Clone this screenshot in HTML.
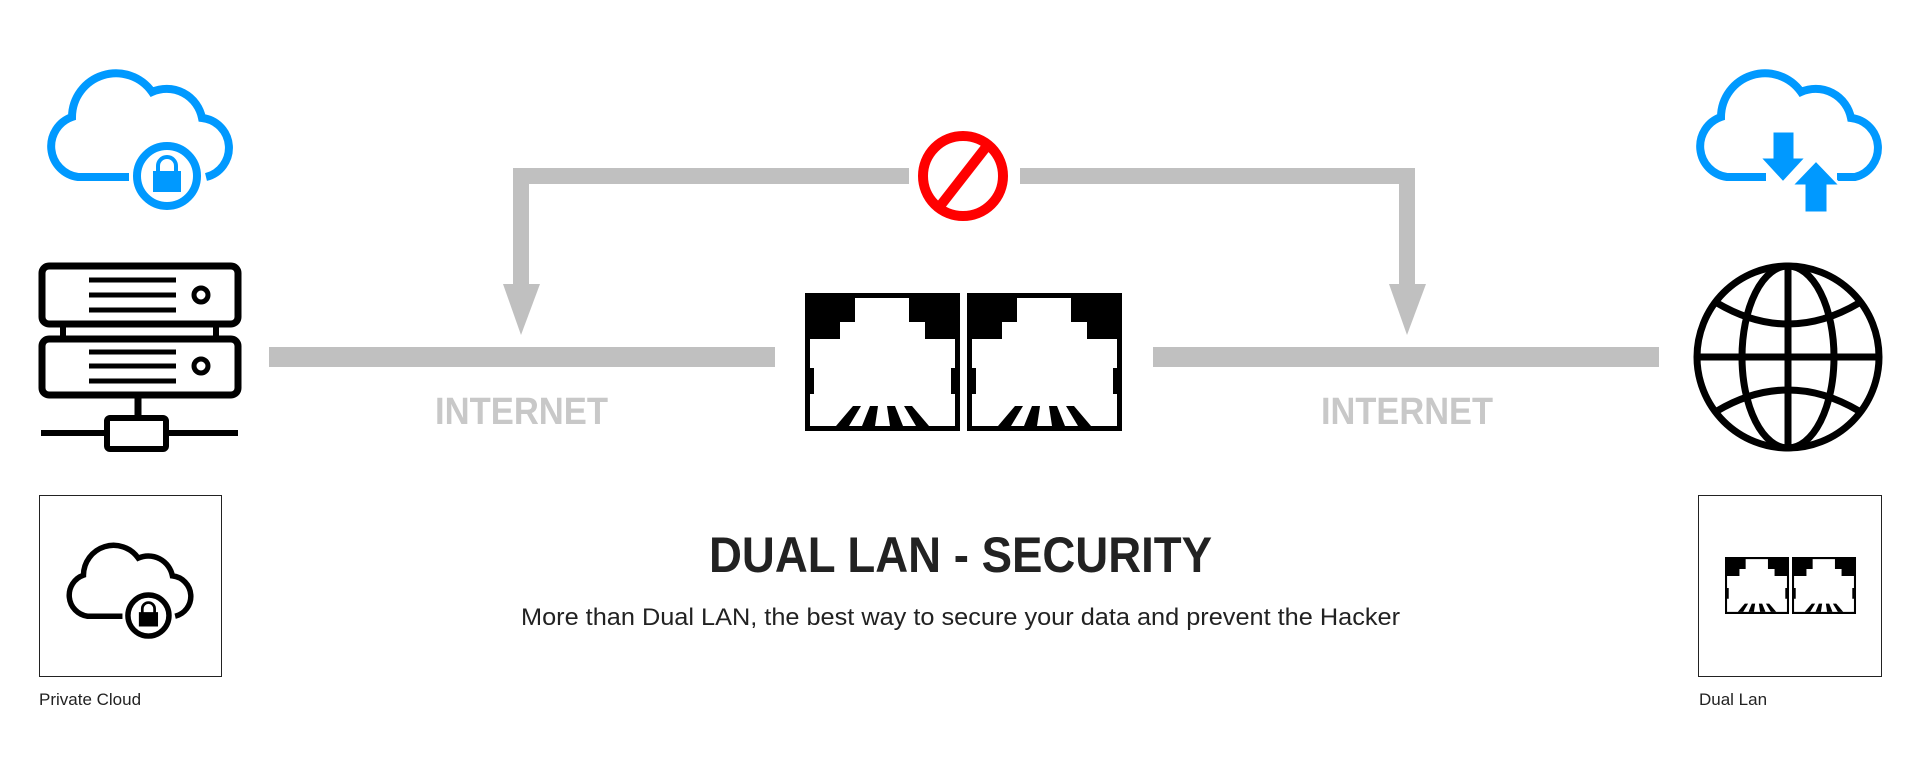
<!DOCTYPE html>
<html><head><meta charset="utf-8"><style>html,body{margin:0;padding:0;background:#fff}svg{display:block}</style></head>
<body>
<svg width="1920" height="778" viewBox="0 0 1920 778" xmlns="http://www.w3.org/2000/svg">
<defs>
<g id="port">
<rect x="0" y="0" width="155" height="138" fill="#000"/>
<polygon fill="#fff" points="50,5 104,5 104,29 120,29 120,46 150,46 150,75 146,75 146,101 150,101 150,133 5,133 5,101 9,101 9,75 5,75 5,46 35,46 35,29 50,29"/>
<polygon fill="#000" points="48,113 56,113 44,133 31,133"/>
<polygon fill="#000" points="65,113 73,113 70,133 57,133"/>
<polygon fill="#000" points="82,113 90,113 98,133 85,133"/>
<polygon fill="#000" points="99,113 107,113 124,133 111,133"/>
</g>
<path id="cloud" fill="none" stroke-width="8" stroke-linecap="butt" d="M129 177 L78 177 A31 31 0 0 1 72 117 A44 44 0 0 1 152 92 A36 36 0 0 1 202 118 A30 30 0 0 1 206 177"/>
</defs>

<use href="#cloud" stroke="#0099ff"/>
<circle cx="167" cy="176" r="30" fill="none" stroke="#0099ff" stroke-width="8"/>
<path d="M158 172 V166 A9 9 0 0 1 176 166 V172" fill="none" stroke="#0099ff" stroke-width="4"/>
<rect x="153" y="171" width="28" height="21" fill="#0099ff"/>

<g fill="none" stroke="#000">
<rect x="42" y="266" width="196" height="58" rx="7" stroke-width="7"/>
<rect x="42" y="339" width="196" height="56" rx="7" stroke-width="7"/>
<g stroke-width="5">
<line x1="89" y1="280" x2="176" y2="280"/><line x1="89" y1="295" x2="176" y2="295"/><line x1="89" y1="310" x2="176" y2="310"/>
<line x1="89" y1="352" x2="176" y2="352"/><line x1="89" y1="366" x2="176" y2="366"/><line x1="89" y1="381" x2="176" y2="381"/>
<circle cx="201" cy="295" r="7"/><circle cx="201" cy="366" r="7"/>
</g>
<line x1="63" y1="326" x2="63" y2="338" stroke-width="6"/>
<line x1="216" y1="326" x2="216" y2="338" stroke-width="6"/>
<line x1="138" y1="398" x2="138" y2="417" stroke-width="7"/>
<rect x="107" y="418" width="59" height="31" rx="3" stroke-width="6"/>
<line x1="41" y1="433" x2="107" y2="433" stroke-width="6"/>
<line x1="166" y1="433" x2="238" y2="433" stroke-width="6"/>
</g>

<g fill="#c0c0c0">
<rect x="269" y="347" width="506" height="20"/>
<rect x="1153" y="347" width="506" height="20"/>
<rect x="513" y="168" width="396" height="16"/>
<rect x="513" y="168" width="16" height="120"/>
<polygon points="503,284 540,284 521,335"/>
<rect x="1020" y="168" width="395" height="16"/>
<rect x="1399" y="168" width="16" height="120"/>
<polygon points="1389,284 1426,284 1407,335"/>
</g>
<text x="435" y="424" font-family="Liberation Sans, sans-serif" font-size="38" font-weight="bold" fill="#c8c8c8" textLength="173" lengthAdjust="spacingAndGlyphs">INTERNET</text>
<text x="1321" y="424" font-family="Liberation Sans, sans-serif" font-size="38" font-weight="bold" fill="#c8c8c8" textLength="172" lengthAdjust="spacingAndGlyphs">INTERNET</text>

<circle cx="963" cy="176" r="40" fill="none" stroke="#ff0000" stroke-width="10"/>
<line x1="990" y1="142" x2="937" y2="210" stroke="#ff0000" stroke-width="10"/>

<use href="#port" x="805" y="293"/>
<use href="#port" x="967" y="293"/>

<g transform="translate(1649 0)">
<path fill="none" stroke="#0099ff" stroke-width="8" d="M117 177 L78 177 A31 31 0 0 1 72 117 A44 44 0 0 1 152 92 A36 36 0 0 1 202 118 A30 30 0 0 1 206 177 L188 177"/>
</g>
<g fill="#0099ff" stroke="#fff" stroke-width="3">
<polygon points="1772,131 1795,131 1795,157 1807,157 1783,183 1759,157 1772,157"/>
<polygon points="1804,213 1828,213 1828,186 1841,186 1816,160 1791,186 1804,186"/>
</g>

<g fill="none" stroke="#000" stroke-width="7">
<ellipse cx="1788" cy="357" rx="91" ry="91"/>
<ellipse cx="1788" cy="357" rx="46" ry="91"/>
<line x1="1788" y1="266" x2="1788" y2="448"/>
<line x1="1697" y1="357" x2="1879" y2="357"/>
<path d="M1717 303 Q1788 345 1859 303"/>
<path d="M1717 411 Q1788 369 1859 411"/>
</g>

<rect x="39.5" y="495.5" width="182" height="181" fill="none" stroke="#222" stroke-width="1"/>
<rect x="1698.5" y="495.5" width="183" height="181" fill="none" stroke="#222" stroke-width="1"/>
<g transform="translate(65 541) scale(0.684) translate(-45 -67)">
<use href="#cloud" stroke="#000"/>
<circle cx="167" cy="176" r="30" fill="none" stroke="#000" stroke-width="8"/>
<path d="M158 172 V166 A9 9 0 0 1 176 166 V172" fill="none" stroke="#000" stroke-width="4"/>
<rect x="153" y="171" width="28" height="21" fill="#000"/>
</g>
<g transform="translate(1725 557) scale(0.413)"><use href="#port"/></g>
<g transform="translate(1792 557) scale(0.413)"><use href="#port"/></g>
<text x="39" y="705" font-family="Liberation Sans, sans-serif" font-size="17" fill="#222">Private Cloud</text>
<text x="1699" y="705" font-family="Liberation Sans, sans-serif" font-size="17" fill="#222">Dual Lan</text>

<text x="709" y="572" font-family="Liberation Sans, sans-serif" font-size="50" font-weight="bold" fill="#222" textLength="503" lengthAdjust="spacingAndGlyphs">DUAL LAN - SECURITY</text>
<text x="521" y="625" font-family="Liberation Sans, sans-serif" font-size="24" fill="#222" textLength="879" lengthAdjust="spacingAndGlyphs">More than Dual LAN, the best way to secure your data and prevent the Hacker</text>
</svg>
</body></html>
